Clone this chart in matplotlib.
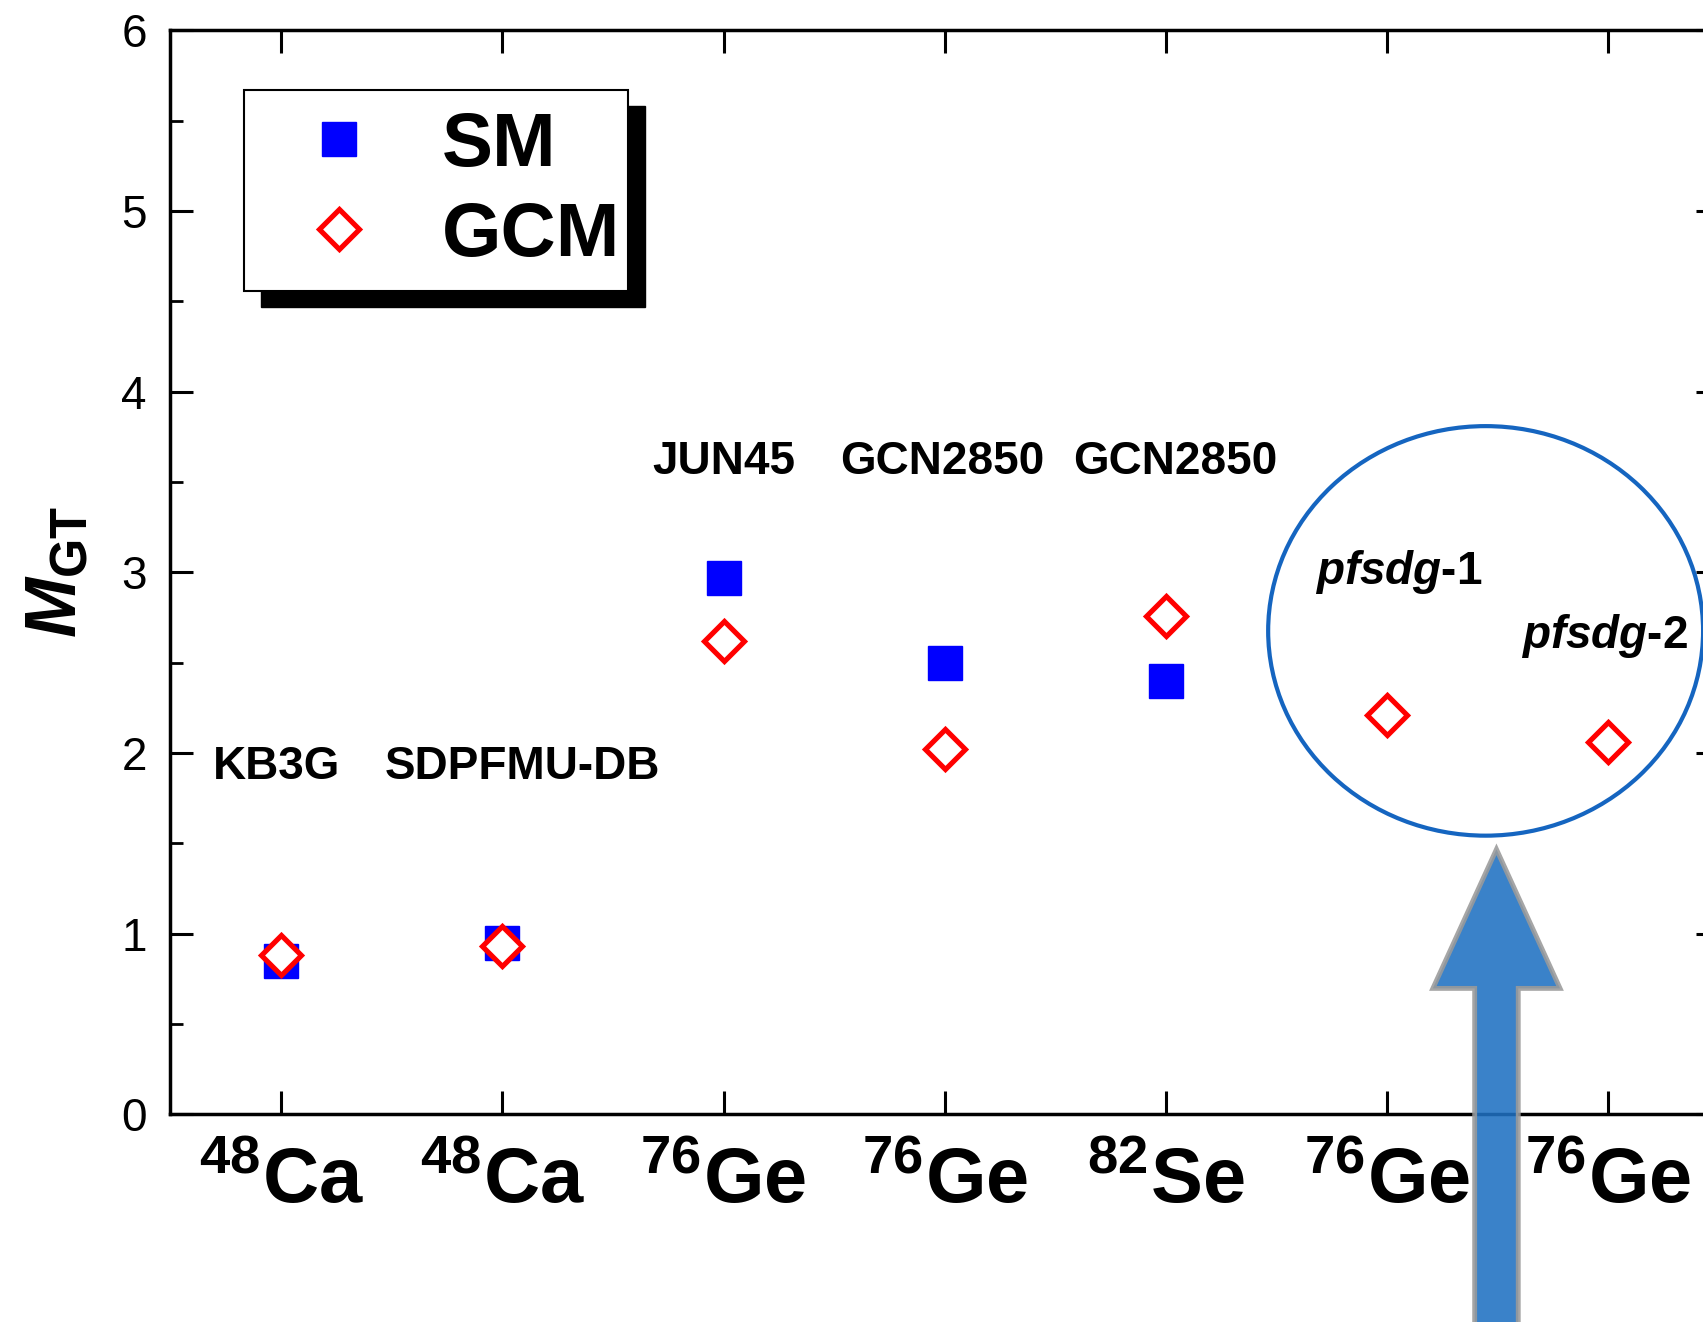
import numpy as np
import matplotlib
matplotlib.use('Agg')
import matplotlib.pyplot as plt
from matplotlib.patches import Rectangle, Ellipse, FancyArrow

plt.rcParams['font.family'] = 'Liberation Sans'
plt.rcParams['mathtext.fontset'] = 'custom'
plt.rcParams['mathtext.rm'] = 'Liberation Sans:bold'
plt.rcParams['mathtext.it'] = 'Liberation Sans:bold:italic'
plt.rcParams['mathtext.bf'] = 'Liberation Sans:bold'

# data
masses = ['48', '48', '76', '76', '82', '76', '76']
elements = ['Ca', 'Ca', 'Ge', 'Ge', 'Se', 'Ge', 'Ge']
interactions = ['KB3G', 'SDPFMU-DB', 'JUN45', 'GCN2850', 'GCN2850', 'pfsdg-1', 'pfsdg-2']
m_sm = [0.85, 0.95, 2.97, 2.50, 2.40, np.nan, np.nan]
m_gcm = [0.88, 0.93, 2.62, 2.02, 2.76, 2.21, 2.06]

# where the interaction names sit (data coords)
label_x = [0.98, 2.09, 3.0, 3.99, 5.04, 6.05, 6.98]
label_y = [1.92, 1.92, 3.61, 3.61, 3.61, 3.0, 2.65]

x = np.arange(1, len(masses) + 1)

fig = plt.figure(figsize=(17.03, 13.22), dpi=100)
ax = fig.add_axes([0.1001, 0.1571, 0.9093, 0.8199])

ax.plot(x, m_sm, 's', ms=24, color='#0000FF', label='SM', zorder=3)
ax.plot(x, m_gcm, 'D', ms=20.5, mfc='white', mec='#FF0000', mew=3.7, label='GCM', zorder=4)

for i, name in enumerate(interactions):
    if name.startswith('pfsdg'):
        txt = '$pfsdg$' + name[5:]
    else:
        txt = name
    ax.text(label_x[i], label_y[i], txt, ha='center', va='center',
            fontsize=33, fontweight='bold')

ax.set_xlim(0.5, 7.5)
ax.set_ylim(0, 6)
ax.set_xticks(x)
ax.set_xticklabels(['$^{%s}$%s' % (m, e) for m, e in zip(masses, elements)],
                   fontsize=56, fontweight='bold')
ax.set_yticks(np.arange(0, 7, 1))
ax.set_yticks(np.arange(0, 6.01, 0.5), minor=True)
ax.tick_params(axis='y', labelsize=33)
ax.tick_params(which='major', direction='in', length=16.5, width=2.2,
               top=True, right=True)
ax.tick_params(which='minor', direction='in', length=9, width=2,
               top=False, right=True)
ax.tick_params(axis='y', which='major', pad=17)
ax.tick_params(axis='x', which='major', pad=23)
for s in ax.spines.values():
    s.set_linewidth(2.5)

ax.set_ylabel(r'$M_{\mathrm{GT}}$', fontsize=52, labelpad=22)

# legend with offset black shadow
ax.add_patch(Rectangle((0.0584, 0.7448), 0.248, 0.1854, transform=ax.transAxes,
                       facecolor='black', edgecolor='black', zorder=5))
ax.add_patch(Rectangle((0.0475, 0.7596), 0.248, 0.1854, transform=ax.transAxes,
                       facecolor='white', edgecolor='black', lw=1.5, zorder=6))
leg = ax.legend(loc='center left', bbox_to_anchor=(0.0888, 0.8514), frameon=False,
                prop={'weight': 'bold', 'size': 55}, handlelength=0.8,
                handletextpad=0.95, labelspacing=0.25, borderpad=0, borderaxespad=0)
leg.set_zorder(7)

# highlight circle and arrow
ax.add_patch(Ellipse((6.445, 2.676), 1.966, 2.267, fill=False, edgecolor='#1565C0',
                     lw=3, clip_on=False, zorder=6))
ax.add_patch(FancyArrow(6.494, -1.3, 0, 2.767, width=0.197, head_width=0.575,
                        head_length=0.77, length_includes_head=True,
                        facecolor='#1F71C2', edgecolor='#9A9A9A', lw=3.5,
                        alpha=0.88, clip_on=False, zorder=8))

fig.savefig('out.png', dpi=100)
